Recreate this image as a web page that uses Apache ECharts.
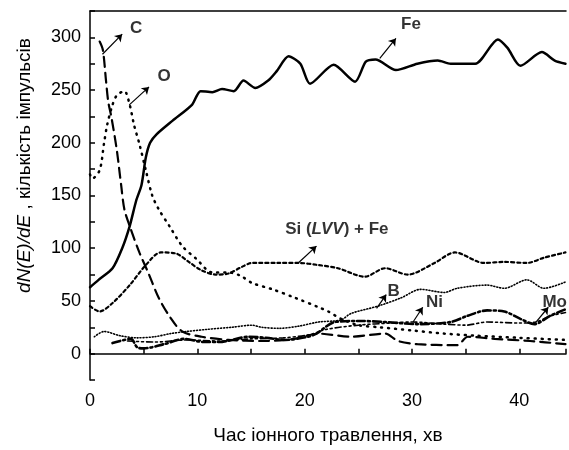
<!DOCTYPE html>
<html>
<head>
<meta charset="utf-8">
<script src="https://cdn.jsdelivr.net/npm/echarts@6/dist/echarts.min.js"></script>
<style>
  html, body { margin: 0; padding: 0; background: #fff; }
  #chart { width: 569px; height: 450px; }
</style>
</head>
<body>
<div id="chart"></div>
<script>
// [час, хв ; dN(E)/dE]
const fe = [[0, 63], [0.8, 70], [2.1, 81], [3.0, 100], [3.7, 121], [4.3, 145], [4.8, 160], [5.2, 186],
  [5.6, 200], [6.2, 208], [7.7, 221], [9.5, 236], [10.3, 249], [11.4, 248], [12.3, 251], [13.4, 249],
  [14.3, 259], [15.4, 252], [16.6, 259], [17.4, 268], [18.5, 282], [19.6, 275], [20.5, 256], [22.7, 274],
  [24.7, 258], [25.7, 277], [26.6, 279], [28.5, 269], [30.5, 275], [32.4, 278], [33.6, 275], [35.9, 275],
  [38.0, 298], [38.9, 290], [40.1, 273], [42.1, 286], [43.3, 278], [44.3, 275]]
const carbon = [[0.9, 296], [1.2, 288], [1.5, 258], [1.7, 239], [2.0, 224], [2.5, 193], [2.9, 160], [3.2, 137],
  [3.7, 121], [4.6, 96], [5.5, 75], [6.4, 53], [7.5, 34], [8.6, 21], [10.4, 16], [13, 13], [16, 12], [19, 14],
  [21.3, 19], [24.3, 16], [27.5, 19], [28.7, 12], [30.5, 9], [34.2, 8], [35.2, 16], [37.7, 14], [41, 12], [44.3, 9]]
const oxygen = [[0, 170], [0.2, 166], [0.9, 174], [1.3, 199], [1.6, 217], [2.1, 236], [2.5, 245], [3.2, 249],
  [3.7, 236], [4.1, 217], [4.6, 199], [5.2, 174], [5.8, 150], [6.4, 137], [7.4, 121], [8.6, 102], [9.9, 90],
  [11.4, 77], [12.9, 77], [14.0, 74], [15.1, 67], [17, 61], [19.1, 53], [21.3, 44], [22.2, 40], [23.4, 33],
  [25, 27], [27, 25], [30, 22], [33, 19], [36, 17], [40, 15], [44.3, 13]]
const siFe = [[0, 45], [0.9, 40], [2.1, 48], [3.7, 65], [5.2, 84], [6.6, 96], [8, 95], [9.2, 87], [10.4, 79],
  [11.7, 75], [12.9, 76], [14.1, 82], [15.1, 86], [17.6, 86], [19.4, 86], [21.3, 84], [23.1, 81], [25.6, 73],
  [27.5, 81], [29.6, 75], [32.1, 86], [34, 96], [36.7, 86], [38.6, 87], [40.7, 86], [42.3, 91], [44.3, 96]]
const boron = [[0.4, 16], [1.3, 21], [2.8, 17], [4.4, 15], [6, 16], [7.5, 19], [9, 21], [10.9, 23], [13.2, 25],
  [15.1, 27], [16, 25], [17.6, 24], [19.4, 26], [21.3, 30], [23.4, 32], [24.3, 38], [26.8, 45], [29, 53],
  [30.8, 61], [33, 58], [34.2, 62], [37, 65], [38.6, 62], [40.7, 70], [42.3, 62], [44.3, 68]]
const nickel = [[3.5, 12], [6, 11], [9, 13], [12, 12], [15, 14], [18, 15], [20.5, 18], [22, 23], [25, 27],
  [28, 29], [30, 30], [33, 28], [35, 27], [37, 30], [40, 29], [41.5, 30], [43, 36], [44.3, 39]]
const molybdenum = [[2.1, 10], [3.8, 14], [4.4, 6], [5, 5], [6.9, 9], [8.8, 14], [10.6, 11], [12, 11],
  [14.8, 16], [16.4, 15], [18.2, 13], [20.3, 16], [21.1, 19], [22.8, 30], [25, 31], [27.5, 30], [30.5, 28],
  [33.6, 30], [35.2, 36], [37, 41], [38.6, 40], [40.1, 33], [41.4, 28], [42.9, 36], [44.3, 42]]

// підписи: [x, y, текст]
const labels = [[4.3, 309, 'C'], [6.9, 263, 'O'], [29.9, 312, 'Fe'], [23.0, 118, 'Si'],
  [28.3, 59, 'B'], [32.1, 49, 'Ni'], [43.3, 49, 'Mo']]
// стрілки: [[x0, y0], [x1, y1]]
const arrows = [
  [[1.16, 284], [3.0, 303]],
  [[3.66, 236], [5.5, 253]],
  [[27.0, 280], [28.5, 299]],
  [[19.4, 86], [21.1, 102]],
  [[26.7, 43], [27.6, 56]],
  [[30.1, 30], [31.0, 44]],
  [[41.4, 28], [42.7, 44]]
]

const font = 'Liberation Sans, Arial, sans-serif'

function curve (name, data, width, dash, smooth) {
  return {
    name,
    type: 'line',
    data,
    showSymbol: false,
    smooth: smooth,
    silent: true,
    lineStyle: { color: '#000', width, type: dash, cap: 'round' }
  }
}

const chart = echarts.init(document.getElementById('chart'))

chart.setOption({
  animation: false,
  textStyle: { fontFamily: font },
  grid: { left: 90, right: 0, top: 11, bottom: 63 },
  xAxis: [{
    type: 'value',
    min: 0,
    max: 44.35,
    interval: 5,
    name: 'Час іонного травлення, хв',
    nameLocation: 'middle',
    nameGap: 46,
    nameTextStyle: { fontSize: 19, color: '#000', fontFamily: font },
    axisLine: { lineStyle: { color: '#000', width: 1.5 } },
    axisTick: { inside: true, length: 5, lineStyle: { color: '#000', width: 1.5 } },
    axisLabel: {
      fontSize: 18,
      color: '#000',
      margin: 12,
      formatter: v => (v % 10 === 0 ? String(v) : '')
    },
    splitLine: { show: false }
  }, {
    type: 'value',
    position: 'top',
    min: 0,
    max: 44.35,
    axisLine: { show: true, lineStyle: { color: '#000', width: 1.5 } },
    axisTick: { show: false },
    axisLabel: { show: false },
    splitLine: { show: false }
  }],
  yAxis: {
    type: 'value',
    min: -25,
    max: 325,
    interval: 25,
    name: '{i|dN(E)/dE} , кількість імпульсів',
    nameLocation: 'middle',
    nameGap: 56,
    nameTextStyle: {
      fontSize: 19,
      color: '#000',
      fontFamily: font,
      padding: [0, 0, 0, 60],
      rich: { i: { fontSize: 19, fontStyle: 'italic', color: '#000', fontFamily: font } }
    },
    axisLine: { show: true, lineStyle: { color: '#000', width: 1.5 } },
    axisTick: { inside: true, length: 5, lineStyle: { color: '#000', width: 1.5 } },
    axisLabel: {
      fontSize: 18,
      color: '#000',
      margin: 9,
      formatter: v => (v >= 0 && v % 50 === 0 ? String(v) : '')
    },
    splitLine: { show: false }
  },
  series: [
    curve('Fe', fe, 2.5, 'solid', 0.25),
    curve('C', carbon, 2.2, [10, 6], 0.3),
    curve('O', oxygen, 2.5, [1, 6], 0.3),
    curve('Si (LVV) + Fe', siFe, 2.2, [3, 3], 0.3),
    curve('B', boron, 1.6, [1, 2], 0.3),
    curve('Ni', nickel, 1.6, [6, 3, 2, 3, 2, 3], 0.3),
    curve('Mo', molybdenum, 2.6, [8, 3, 2, 3], 0.3),
    {
      name: 'arrows',
      type: 'line',
      data: [],
      silent: true,
      markLine: {
        silent: true,
        symbol: ['none', 'arrow'],
        symbolSize: 7,
        label: { show: false },
        lineStyle: { color: '#000', width: 1.2, type: 'solid' },
        data: arrows.map(a => [{ coord: a[0] }, { coord: a[1] }])
      }
    },
    {
      name: 'labels',
      type: 'scatter',
      symbolSize: 0,
      silent: true,
      data: labels.map(l => ({ value: [l[0], l[1]], name: l[2] })),
      label: {
        show: true,
        position: 'inside',
        color: '#000',
        fontSize: 17,
        fontWeight: 'bold',
        fontFamily: font,
        formatter: p => (p.name === 'Si' ? 'Si ({it|LVV}) + Fe' : p.name),
        rich: { it: { fontSize: 17, fontWeight: 'bold', fontStyle: 'italic', color: '#000', fontFamily: font } }
      }
    }
  ]
})
</script>
</body>
</html>
